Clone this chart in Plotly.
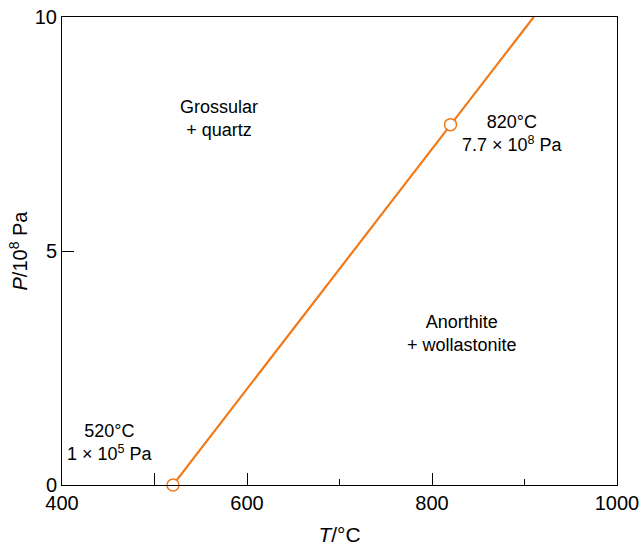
import plotly.graph_objects as go

# Phase boundary: grossular + quartz = anorthite + wollastonite
line_T = [520, 820, 910]
line_P = [0.001, 7.7, 10.0]
point_T = [520, 820]
point_P = [0.001, 7.7]

x_tickvals = [400, 500, 600, 800, 1000]
x_ticktext = ["400", "", "600", "800", "1000"]
x_minor = [700, 900]
y_tickvals = [0, 5, 10]

orange = "#F07A1A"
font_family = "Liberation Sans, Arial, sans-serif"

W, H = 642, 550
L, R, T, B = 62, 617, 17, 485

fig = go.Figure()
fig.add_trace(go.Scatter(x=line_T, y=line_P, mode="lines",
                         line=dict(color=orange, width=2.2), hoverinfo="skip",
                         showlegend=False))
fig.add_trace(go.Scatter(x=point_T, y=point_P, mode="markers",
                         marker=dict(size=12, color="white", line=dict(color=orange, width=1.5)),
                         showlegend=False, cliponaxis=False))

labels = [
    (219, 118, "Grossular<br>+ quartz"),
    (512, 133, "820°C<br>7.7 × 10<sup>8</sup> Pa"),
    (462, 333, "Anorthite<br>+ wollastonite"),
    (110, 442, "520°C<br>1 × 10<sup>5</sup> Pa"),
]
for px, py, txt in labels:
    fig.add_annotation(x=(px - L) / (R - L), y=(B - py) / (B - T), xref="paper", yref="paper",
                       xanchor="center", yanchor="middle",
                       text=txt, showarrow=False, align="center",
                       font=dict(size=18, color="black", family=font_family))

fig.update_layout(
    width=W, height=H,
    margin=dict(l=L, r=W - R, t=T, b=H - B, autoexpand=False),
    paper_bgcolor="white", plot_bgcolor="white",
    font=dict(family=font_family, color="black", size=20),
    xaxis=dict(range=[400, 1000], tickvals=x_tickvals, ticktext=x_ticktext,
               ticks="inside", ticklen=12, tickwidth=1, tickcolor="black",
               minor=dict(tickvals=x_minor, ticks="inside", ticklen=6, tickwidth=1, tickcolor="black"),
               showline=True, linecolor="black", linewidth=1, mirror=True,
               showgrid=False, zeroline=False, automargin=False,
               ticklabeloverflow="allow",
               title=dict(text="<i>T</i>/°C", standoff=14, font=dict(size=21)),
               tickfont=dict(size=20)),
    yaxis=dict(range=[0, 10], tickvals=y_tickvals,
               ticks="inside", ticklen=12, tickwidth=1, tickcolor="black",
               showline=True, linecolor="black", linewidth=1, mirror=True,
               showgrid=False, zeroline=False, automargin=False,
               ticklabeloverflow="allow",
               title=dict(text="<i>P</i>/10<sup>8</sup> Pa", standoff=1, font=dict(size=20)),
               tickfont=dict(size=20)),
)

fig.write_html("out.html",
               config={"displayModeBar": False},
               post_script="document.body.style.margin='0';document.body.style.overflow='hidden';")
